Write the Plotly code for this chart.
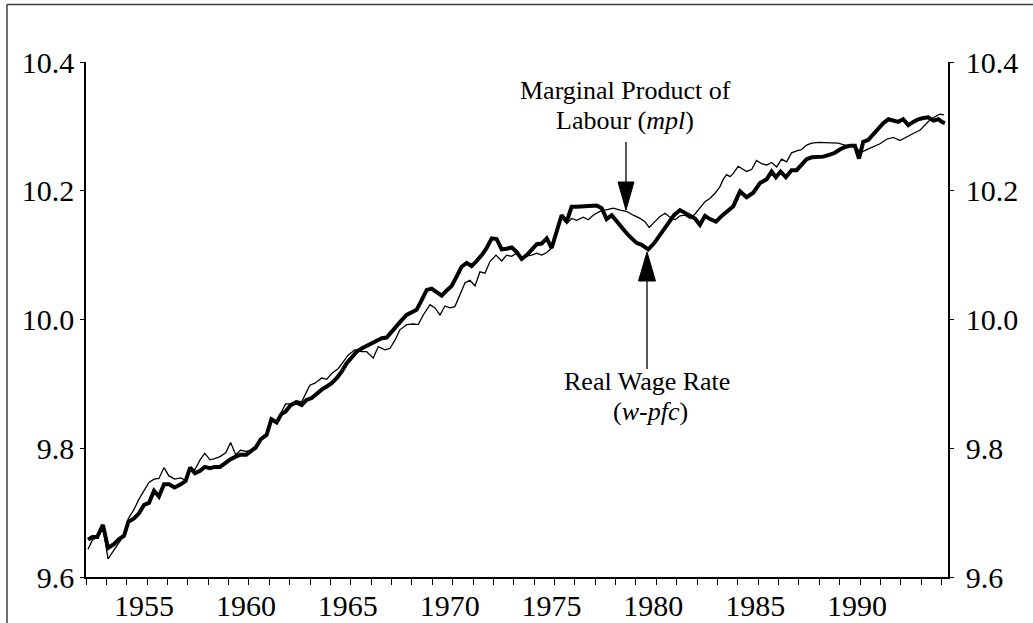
import plotly.graph_objects as go

# ---- Data (decimal years, log levels) ----
wage_year = [1952.10, 1952.31, 1952.55, 1952.83, 1953.08, 1953.37, 1953.62, 1953.87, 1954.08, 1954.36,
             1954.60, 1954.85, 1955.09, 1955.34, 1955.58, 1955.83, 1956.07, 1956.35, 1956.65, 1956.89,
             1957.11, 1957.35, 1957.60, 1957.83, 1958.09, 1958.32, 1958.58, 1958.86, 1959.10, 1959.35,
             1959.59, 1959.87, 1960.09, 1960.33, 1960.58, 1960.87, 1961.10, 1961.36, 1961.59, 1961.80,
             1962.05, 1962.32, 1962.59, 1962.83, 1963.08, 1963.33, 1963.57, 1963.82, 1964.06, 1964.31,
             1964.55, 1964.80, 1965.04, 1965.29, 1965.53, 1965.78, 1966.03, 1966.27, 1966.52, 1966.76,
             1967.01, 1967.25, 1967.50, 1967.74, 1967.99, 1968.23, 1968.48, 1968.73, 1968.97, 1969.22,
             1969.46, 1969.71, 1969.95, 1970.20, 1970.44, 1970.69, 1970.93, 1971.18, 1971.43, 1971.67,
             1971.92, 1972.16, 1972.41, 1972.65, 1972.90, 1973.14, 1973.39, 1973.64, 1973.88, 1974.13,
             1974.37, 1974.62, 1974.86, 1975.14, 1975.35, 1975.60, 1975.84, 1976.09, 1976.41, 1976.74,
             1977.07, 1977.32, 1977.56, 1977.81, 1978.05, 1978.30, 1978.54, 1978.79, 1979.03, 1979.28,
             1979.60, 1979.88, 1980.14, 1980.38, 1980.64, 1980.87, 1981.16, 1981.41, 1981.65, 1981.90,
             1982.14, 1982.39, 1982.63, 1982.93, 1983.21, 1983.53, 1983.78, 1984.11, 1984.43, 1984.76,
             1985.09, 1985.42, 1985.66, 1985.87, 1986.10, 1986.36, 1986.64, 1986.89, 1987.13, 1987.38,
             1987.63, 1987.87, 1988.20, 1988.52, 1988.77, 1989.01, 1989.26, 1989.51, 1989.75, 1989.95,
             1990.16, 1990.41, 1990.65, 1990.90, 1991.14, 1991.39, 1991.63, 1991.88, 1992.12, 1992.37,
             1992.61, 1992.86, 1993.11, 1993.35, 1993.60, 1993.85, 1994.01, 1994.17]
wage = [9.658, 9.662, 9.662, 9.681, 9.645, 9.651, 9.659, 9.664, 9.686, 9.691,
        9.699, 9.712, 9.715, 9.734, 9.725, 9.744, 9.744, 9.739, 9.744, 9.749,
        9.770, 9.761, 9.765, 9.771, 9.769, 9.771, 9.771, 9.778, 9.783, 9.787,
        9.790, 9.790, 9.795, 9.801, 9.814, 9.821, 9.845, 9.840, 9.853, 9.857,
        9.867, 9.871, 9.867, 9.875, 9.878, 9.885, 9.891, 9.896, 9.901, 9.909,
        9.919, 9.932, 9.942, 9.950, 9.955, 9.959, 9.962, 9.967, 9.971, 9.972,
        9.981, 9.992, 9.999, 10.007, 10.012, 10.015, 10.030, 10.046, 10.048, 10.042,
        10.037, 10.045, 10.052, 10.067, 10.082, 10.088, 10.083, 10.091, 10.100, 10.111,
        10.126, 10.125, 10.109, 10.110, 10.112, 10.105, 10.094, 10.100, 10.108, 10.117,
        10.118, 10.126, 10.111, 10.143, 10.162, 10.152, 10.175, 10.175, 10.176, 10.177,
        10.177, 10.173, 10.156, 10.162, 10.152, 10.142, 10.134, 10.126, 10.119, 10.116,
        10.109, 10.118, 10.129, 10.139, 10.152, 10.162, 10.170, 10.166, 10.162, 10.157,
        10.147, 10.161, 10.156, 10.152, 10.161, 10.170, 10.176, 10.199, 10.190, 10.197,
        10.212, 10.218, 10.230, 10.221, 10.230, 10.221, 10.232, 10.232, 10.240, 10.249,
        10.252, 10.252, 10.253, 10.256, 10.259, 10.264, 10.268, 10.270, 10.270, 10.250,
        10.276, 10.279, 10.287, 10.297, 10.305, 10.311, 10.309, 10.307, 10.311, 10.302,
        10.307, 10.311, 10.313, 10.314, 10.309, 10.311, 10.307, 10.305]

mpl_year = [1952.10, 1952.31, 1952.55, 1952.83, 1953.08, 1953.37, 1953.62, 1953.87, 1954.08, 1954.36,
            1954.60, 1954.85, 1955.09, 1955.34, 1955.58, 1955.83, 1956.07, 1956.35, 1956.65, 1956.89,
            1957.11, 1957.35, 1957.60, 1957.83, 1958.09, 1958.32, 1958.58, 1958.86, 1959.10, 1959.35,
            1959.59, 1959.87, 1960.09, 1960.33, 1960.58, 1960.87, 1961.10, 1961.36, 1961.59, 1961.80,
            1962.05, 1962.32, 1962.59, 1962.99, 1963.24, 1963.57, 1963.82, 1964.06, 1964.39, 1964.63,
            1964.88, 1965.21, 1965.53, 1965.78, 1966.10, 1966.35, 1966.68, 1966.92, 1967.17, 1967.41,
            1967.74, 1968.07, 1968.31, 1968.56, 1968.89, 1969.13, 1969.38, 1969.62, 1969.87, 1970.11,
            1970.36, 1970.61, 1970.85, 1971.10, 1971.34, 1971.59, 1971.83, 1972.13, 1972.41, 1972.65,
            1972.90, 1973.14, 1973.39, 1973.64, 1973.88, 1974.13, 1974.37, 1974.62, 1974.86, 1975.14,
            1975.35, 1975.60, 1975.84, 1976.09, 1976.41, 1976.66, 1976.90, 1977.23, 1977.56, 1977.89,
            1978.22, 1978.54, 1978.87, 1979.20, 1979.44, 1979.65, 1979.93, 1980.18, 1980.43, 1980.67,
            1980.92, 1981.16, 1981.41, 1981.65, 1981.90, 1982.14, 1982.39, 1982.63, 1982.88, 1983.12,
            1983.29, 1983.45, 1983.62, 1983.78, 1984.02, 1984.43, 1984.68, 1984.92, 1985.17, 1985.42,
            1985.66, 1985.91, 1986.15, 1986.40, 1986.64, 1986.89, 1987.13, 1987.38, 1987.63, 1987.95,
            1988.28, 1988.61, 1988.93, 1989.26, 1989.59, 1989.84, 1990.03, 1990.33, 1990.65, 1990.98,
            1991.31, 1991.63, 1991.96, 1992.29, 1992.61, 1992.94, 1993.19, 1993.43, 1993.68, 1993.92,
            1994.12]
mpl = [9.643, 9.657, 9.662, 9.679, 9.628, 9.642, 9.655, 9.665, 9.691, 9.705,
       9.721, 9.735, 9.747, 9.752, 9.753, 9.770, 9.757, 9.752, 9.754, 9.750,
       9.767, 9.767, 9.782, 9.792, 9.782, 9.784, 9.787, 9.793, 9.809, 9.790,
       9.797, 9.795, 9.797, 9.804, 9.816, 9.823, 9.847, 9.842, 9.855, 9.869,
       9.869, 9.874, 9.872, 9.898, 9.901, 9.909, 9.907, 9.916, 9.924, 9.935,
       9.945, 9.953, 9.950, 9.950, 9.940, 9.958, 9.953, 9.955, 9.968, 9.984,
       9.992, 9.993, 9.992, 10.007, 10.023, 10.018, 10.007, 10.021, 10.018, 10.020,
       10.038, 10.057, 10.061, 10.052, 10.074, 10.072, 10.090, 10.100, 10.091, 10.100,
       10.098, 10.103, 10.095, 10.099, 10.100, 10.103, 10.100, 10.104, 10.111, 10.142,
       10.162, 10.149, 10.157, 10.154, 10.159, 10.155, 10.162, 10.168, 10.171, 10.173,
       10.170, 10.168, 10.162, 10.157, 10.152, 10.143, 10.152, 10.160, 10.165, 10.159,
       10.155, 10.161, 10.162, 10.157, 10.164, 10.173, 10.183, 10.188, 10.196, 10.206,
       10.218, 10.225, 10.222, 10.227, 10.238, 10.230, 10.233, 10.247, 10.242, 10.240,
       10.244, 10.237, 10.249, 10.245, 10.259, 10.262, 10.264, 10.271, 10.274, 10.275,
       10.275, 10.275, 10.274, 10.271, 10.270, 10.266, 10.259, 10.264, 10.269, 10.273,
       10.280, 10.283, 10.278, 10.284, 10.289, 10.294, 10.302, 10.310, 10.315, 10.319,
       10.318]

year_ticks = list(range(1952, 1995))
year_labels = [str(y) if y % 5 == 0 else "" for y in year_ticks]
y_ticks = [9.6, 9.8, 10.0, 10.2, 10.4]
y_labels = ["9.6", "9.8", "10.0", "10.2", "10.4"]

# ---- Layout geometry (pixels) ----
W, H = 1033, 623
L, R, T, B = 86, 948, 62, 577
FONT = "Liberation Serif"
X_RANGE = [1952, 1994.32]
Y_RANGE = [9.6, 10.4]


def fx(x):
    return (x - L) / (R - L)


def fy(y):
    return (B - y) / (B - T)


fig = go.Figure()
fig.add_trace(go.Scatter(x=wage_year, y=wage, mode="lines",
                         line=dict(color="black", width=4), name="Real Wage Rate",
                         showlegend=False, hoverinfo="skip"))
fig.add_trace(go.Scatter(x=mpl_year, y=mpl, mode="lines", xaxis="x2", yaxis="y2",
                         line=dict(color="black", width=1.3), name="Marginal Product of Labour",
                         showlegend=False, hoverinfo="skip"))

axis_common = dict(showgrid=False, zeroline=False, linecolor="black",
                   linewidth=1.5, tickcolor="black", tickwidth=1.3,
                   automargin=False,
                   tickfont=dict(family=FONT, size=30, color="black"))

fig.update_layout(
    width=W, height=H,
    margin=dict(l=L, r=W - R, t=T, b=H - B, pad=0),
    paper_bgcolor="white", plot_bgcolor="white",
    font=dict(family=FONT, color="black"),
    # labelled year axis (no tick marks so labels sit close to the axis)
    xaxis=dict(range=X_RANGE, tickmode="array", tickvals=year_ticks, ticktext=year_labels,
               ticks="", showline=True, ticklabelshift=-3, ticklabelstandoff=1, **axis_common),
    # tick-mark axis (one mark per year)
    xaxis2=dict(range=X_RANGE, tickmode="array", tickvals=year_ticks, ticks="outside",
                ticklen=7, showticklabels=False, showline=False, overlaying="x",
                anchor="y2", side="bottom", **axis_common),
    yaxis=dict(range=Y_RANGE, tickmode="array", tickvals=y_ticks, ticktext=y_labels,
               ticks="outside", ticklen=4, showline=True, side="left", **axis_common),
    yaxis2=dict(range=Y_RANGE, tickmode="array", tickvals=y_ticks, ticktext=y_labels,
                ticks="outside", ticklen=4, showline=True, side="right", overlaying="y",
                anchor="x2", ticklabelstandoff=6, **axis_common),
)

txt_font = dict(family=FONT, size=26, color="black")
labels = [
    ("Marginal Product of", 625, 90),
    ("Labour (<i>mpl</i>)", 625, 120),
    ("Real Wage Rate", 647, 381),
    ("(<i>w-pfc</i>)", 650, 411),
]
for text, x, y in labels:
    fig.add_annotation(text=text, x=fx(x), y=fy(y), xref="paper", yref="paper",
                       xanchor="center", yanchor="middle", showarrow=False, font=txt_font)

shapes = []
# arrow 1 (down to mpl)
shapes.append(dict(type="line", x0=fx(626), x1=fx(626), y0=fy(142), y1=fy(185),
                   line=dict(color="black", width=1.3)))
# arrow 2 (up to real wage)
shapes.append(dict(type="line", x0=fx(647), x1=fx(647), y0=fy(369), y1=fy(278),
                   line=dict(color="black", width=1.3)))


def tri(pts):
    return "M " + " L ".join(f"{fx(a):.5f},{fy(b):.5f}" for a, b in pts) + " Z"


shapes.append(dict(type="path", path=tri([(618, 182), (634, 182), (626, 210)]),
                   fillcolor="black", line=dict(color="black", width=1)))
shapes.append(dict(type="path", path=tri([(638.5, 281), (655.5, 281), (647, 252)]),
                   fillcolor="black", line=dict(color="black", width=1)))
# outer frame (top and left edges)
shapes.append(dict(type="line", x0=fx(7), x1=fx(1040), y0=fy(4.5), y1=fy(4.5),
                   line=dict(color="#404040", width=1.5)))
shapes.append(dict(type="line", x0=fx(7), x1=fx(7), y0=fy(4.5), y1=fy(640),
                   line=dict(color="#404040", width=1.5)))
for s in shapes:
    s.update(xref="paper", yref="paper")
fig.update_layout(shapes=shapes)

fig.write_html("out.html", config={"displayModeBar": False},
               post_script="document.body.style.margin='0';document.body.style.overflow='hidden';")
